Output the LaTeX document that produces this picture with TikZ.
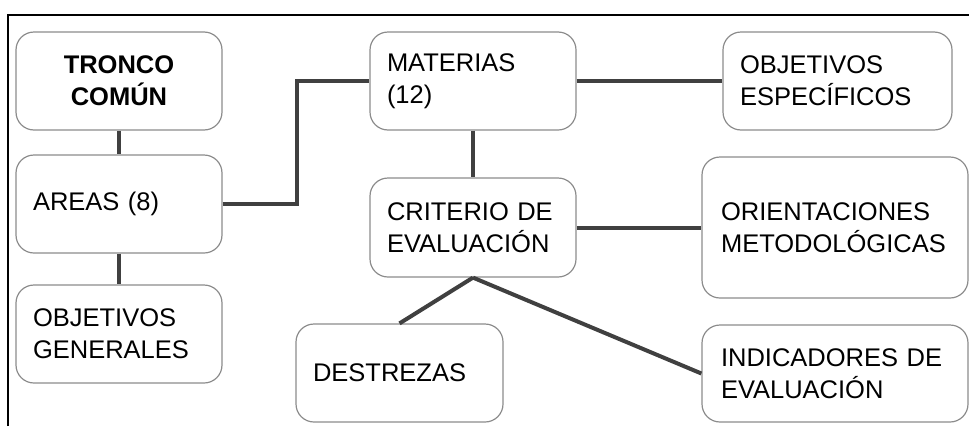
\documentclass[tikz,border=0pt]{standalone}
\usepackage{fontspec}
\setmainfont{Liberation Sans}
\usepackage{tikz}
\usetikzlibrary{positioning}

\tikzset{
    caja/.style={draw=black!45, line width=1.2pt, rounded corners=18pt, inner xsep=17pt, inner ysep=0pt, align=left, font=\fontsize{25.5}{32}\selectfont},
    enlace/.style={draw=black!75, line width=4pt}
}

\begin{document}
\begin{tikzpicture}[x=1pt, y=-1pt]
    \useasboundingbox (0, 0) rectangle (969, 426);
    \draw[line width=2pt] (8, 426) -- (8, 15) -- (969, 15);

    \node[caja, text width=172pt, minimum height=98pt, align=center, font=\fontsize{25.5}{32}\selectfont\bfseries] (tronco) at (119, 81) {TRONCO\\COMÚN};
    \node[caja, text width=172pt, minimum height=98pt] (areas) at (119, 204) {AREAS (8)};
    \node[caja, text width=172pt, minimum height=98pt] (objgen) at (119, 334) {OBJETIVOS\\GENERALES};
    \node[caja, text width=172pt, minimum height=98pt] (materias) at (473, 81) {MATERIAS\\(12)};
    \node[caja, text width=172pt, minimum height=99pt] (criterio) at (473, 227.5) {CRITERIO DE\\EVALUACIÓN};
    \node[caja, text width=173pt, minimum height=98pt] (destrezas) at (399.5, 373) {DESTREZAS};
    \node[caja, text width=195pt, minimum height=98pt] (objesp) at (837.5, 81) {OBJETIVOS\\ESPECÍFICOS};
    \node[caja, inner xsep=19pt, text width=228pt, minimum height=141pt] (orient) at (835, 227.5) {ORIENTACIONES\\METODOLÓGICAS};
    \node[caja, inner xsep=19pt, text width=228pt, minimum height=97pt] (indic) at (835, 373.5) {INDICADORES DE\\EVALUACIÓN};

    \draw[enlace] (tronco) -- (areas);
    \draw[enlace] (areas) -- (objgen);
    \draw[enlace] (areas.east) -- ++(74, 0) |- (materias.west);
    \draw[enlace] (materias) -- (criterio);
    \draw[enlace] (materias) -- (objesp);
    \draw[enlace] (criterio) -- (orient);
    \draw[enlace] (criterio.south) -- (destrezas.north);
    \draw[enlace] (criterio.south) -- (indic.west);
\end{tikzpicture}
\end{document}
